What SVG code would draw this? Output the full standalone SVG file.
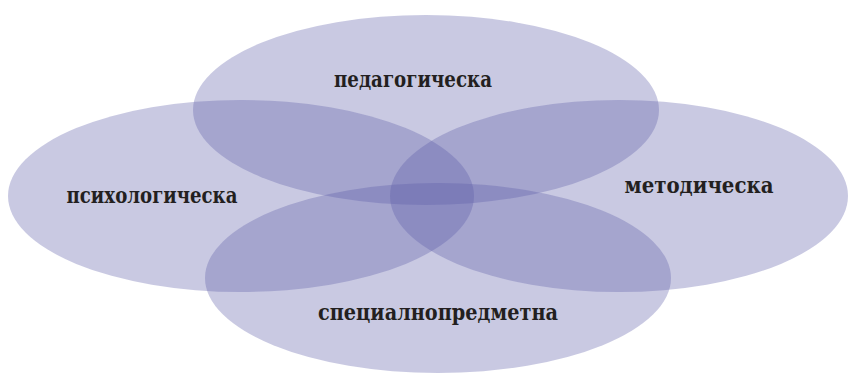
<svg xmlns="http://www.w3.org/2000/svg" width="849" height="374" viewBox="0 0 849 374" lang="bg">
  <style>
    .petal { fill: #5b5ba6; fill-opacity: 0.33; stroke: none; }
    .label { font-family: "DejaVu Serif", "Liberation Serif", serif; font-weight: bold; font-size: 22px; fill: #231f20; text-anchor: middle; }
  </style>
  <rect width="849" height="374" fill="#ffffff"/>
  <g id="connectors"/>
  <g id="pedagogical">
    <ellipse class="petal" cx="426" cy="110" rx="233" ry="95"/>
    <text class="label" x="413" y="87" textLength="158" lengthAdjust="spacingAndGlyphs">педагогическа</text>
  </g>
  <g id="psychological">
    <ellipse class="petal" cx="241" cy="196" rx="233" ry="96"/>
    <text class="label" x="152" y="203" textLength="171" lengthAdjust="spacingAndGlyphs">психологическа</text>
  </g>
  <g id="methodical">
    <ellipse class="petal" cx="619" cy="196" rx="229" ry="96"/>
    <text class="label" x="699" y="193" textLength="149" lengthAdjust="spacingAndGlyphs">методическа</text>
  </g>
  <g id="subject">
    <ellipse class="petal" cx="438" cy="278" rx="233" ry="95"/>
    <text class="label" x="438" y="320" textLength="240" lengthAdjust="spacingAndGlyphs">специалнопредметна</text>
  </g>
</svg>
